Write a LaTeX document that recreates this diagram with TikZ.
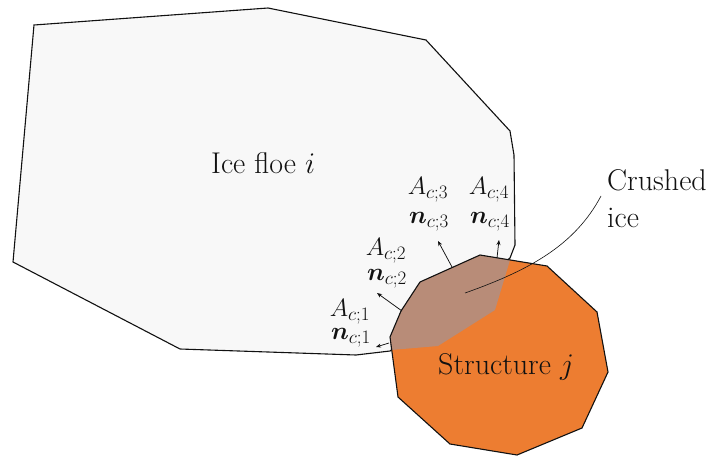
\RequirePackage{fix-cm}
\documentclass[tikz,border=0pt]{standalone}
\usepackage{amsmath}
\usepackage{bm}
\usetikzlibrary{arrows.meta}
\newcommand{\bigsub}[2]{_{\hbox{\fontsize{19}{19}\selectfont$#1{;}#2$}}}
\definecolor{floefill}{HTML}{F8F8F8}
\definecolor{structorange}{HTML}{ED7D31}
\definecolor{crushbrown}{HTML}{B88C78}
\definecolor{inkgray}{HTML}{111111}
\tikzset{
  outline/.style={draw=inkgray, line width=1.1pt, line join=miter},
  normalarrow/.style={draw=inkgray, line width=0.75pt, -{Stealth[length=5pt,width=4pt]}},
  leader/.style={draw=inkgray, line width=0.6pt},
  bigtext/.style={inner sep=0pt, text=inkgray, font=\fontsize{30}{37}\selectfont},
  mathlabel/.style={inner sep=0pt, text=inkgray, font=\fontsize{25}{26}\selectfont}
}
\begin{document}
\begin{tikzpicture}[x=1pt,y=-1pt]
\useasboundingbox (0,0) rectangle (714,458);
% ice floe
\draw[outline, fill=floefill] (34,25) -- (268,8) -- (426,40) -- (510,131) -- (514,155)
  -- (515,245) -- (510,258) -- (390,351) -- (356,355) -- (180,349) -- (13,262) -- cycle;
% structure
\fill[structorange] (480,255) -- (547,266) -- (597,312) -- (608,372) -- (582,428) -- (517,455)
  -- (450,444) -- (398,397) -- (390,337) -- (401,311) -- (420,282) -- cycle;
% crushed ice
\fill[crushbrown] (390,337) -- (401,311) -- (420,282) -- (480,255) -- (510,260)
  -- (495,310) -- (438,346) -- (391,350) -- cycle;
\draw[outline] (480,255) -- (547,266) -- (597,312) -- (608,372) -- (582,428) -- (517,455)
  -- (450,444) -- (398,397) -- (390,337) -- (401,311) -- (420,282) -- cycle;
% normals
\coordinate (s1) at (389,343); \coordinate (e1) at (376,347);
\coordinate (s2) at (402,311); \coordinate (e2) at (377,293);
\coordinate (s3) at (452,267); \coordinate (e3) at (438,241);
\coordinate (s4) at (497,258); \coordinate (e4) at (499,240);
\draw[normalarrow] (s1) -- (e1);
\draw[normalarrow] (s2) -- (e2);
\draw[normalarrow] (s3) -- (e3);
\draw[normalarrow] (s4) -- (e4);
% labels
\node[mathlabel] (A1) at (350,312) {$A\bigsub{c}{1}$};
\node[mathlabel] (n1) at (351,338) {$\bm{n}\bigsub{c}{1}$};
\node[mathlabel] (A2) at (386,251) {$A\bigsub{c}{2}$};
\node[mathlabel] (n2) at (387,279) {$\bm{n}\bigsub{c}{2}$};
\node[mathlabel] (A3) at (428,190) {$A\bigsub{c}{3}$};
\node[mathlabel] (n3) at (429,222) {$\bm{n}\bigsub{c}{3}$};
\node[mathlabel] (A4) at (489,190) {$A\bigsub{c}{4}$};
\node[mathlabel] (n4) at (490,222) {$\bm{n}\bigsub{c}{4}$};
\node[bigtext, anchor=base west] (floe) at (211,173) {Ice floe $i$};
\node[bigtext, anchor=base west] (struct) at (438,374) {Structure $j$};
\node[bigtext, anchor=north west, align=left] (crushed) at (607,169) {Crushed\\ice};
% leader
\coordinate (lstart) at (601,196);
\coordinate (lend) at (465,293);
\draw[leader] (lstart) .. controls (575,245) and (530,270) .. (lend);
\end{tikzpicture}
\end{document}
